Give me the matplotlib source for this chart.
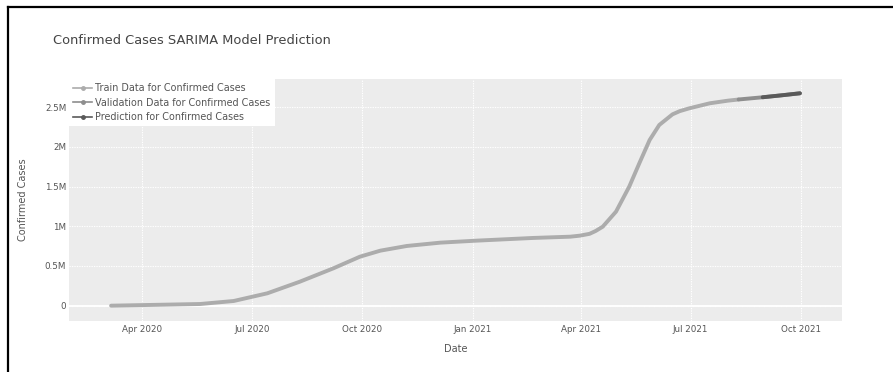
import matplotlib
matplotlib.use("Agg")
import matplotlib.pyplot as plt
from matplotlib.lines import Line2D
import pandas as pd

# Cumulative confirmed cases (millions)
train_dates = ["2020-03-06", "2020-05-19", "2020-06-16", "2020-07-14", "2020-08-10",
               "2020-09-07", "2020-09-29", "2020-10-16", "2020-11-07", "2020-12-05",
               "2021-01-04", "2021-02-20", "2021-03-23", "2021-03-31", "2021-04-08",
               "2021-04-13", "2021-04-19", "2021-04-30", "2021-05-11", "2021-05-20",
               "2021-05-28", "2021-06-05", "2021-06-16", "2021-06-22", "2021-06-30",
               "2021-07-17", "2021-08-01", "2021-08-10"]
train_values = [0.0, 0.021, 0.059, 0.156, 0.302,
                0.471, 0.617, 0.693, 0.752, 0.794,
                0.819, 0.853, 0.869, 0.882, 0.905,
                0.94, 0.995, 1.184, 1.499, 1.814,
                2.087, 2.276, 2.41, 2.45, 2.486,
                2.549, 2.582, 2.597]

valid_dates = ["2021-08-10", "2021-08-30", "2021-09-15", "2021-09-30"]
valid_values = [2.597, 2.625, 2.650, 2.675]

pred_dates = ["2021-08-30", "2021-09-15", "2021-09-30"]
pred_values = [2.625, 2.650, 2.675]

y_ticks = [0, 0.5, 1.0, 1.5, 2.0, 2.5]
y_tick_labels = ["0", "0.5M", "1M", "1.5M", "2M", "2.5M"]
x_ticks = ["2020-04-01", "2020-07-01", "2020-10-01", "2021-01-01",
           "2021-04-01", "2021-07-01", "2021-10-01"]
x_tick_labels = ["Apr 2020", "Jul 2020", "Oct 2020", "Jan 2021",
                 "Apr 2021", "Jul 2021", "Oct 2021"]

TEXT = "#555555"
C_TRAIN = "#acacac"
C_VALID = "#8e8e8e"
C_PRED = "#5a5a5a"

plt.rcParams["font.family"] = ["DejaVu Sans"]

fig = plt.figure(figsize=(8.93, 3.72), dpi=100)
ax = fig.add_axes([69 / 893, 51 / 372, 773 / 893, 242 / 372])
ax.set_facecolor("#ececec")
for s in ax.spines.values():
    s.set_visible(False)

td = pd.to_datetime(train_dates)
vd = pd.to_datetime(valid_dates)
pdt = pd.to_datetime(pred_dates)

lw = 2.8
style = dict(lw=lw, solid_capstyle="round", solid_joinstyle="round")
ax.plot(td, train_values, color=C_TRAIN, zorder=3, **style)
ax.plot(vd, valid_values, color=C_VALID, zorder=4, **style)
ax.plot(pdt, pred_values, color=C_PRED, zorder=5, **style)

ax.set_xlim(pd.Timestamp("2020-01-31"), pd.Timestamp("2021-11-04"))
ax.set_ylim(-0.193, 2.855)

ax.set_yticks(y_ticks)
ax.set_yticklabels(y_tick_labels)
ax.set_xticks(pd.to_datetime(x_ticks))
ax.set_xticklabels(x_tick_labels)
ax.tick_params(axis="both", length=0, labelsize=6.3, colors=TEXT)
ax.tick_params(axis="y", pad=2)
ax.tick_params(axis="x", pad=3)

ax.grid(True, color="white", lw=0.8, linestyle=(0, (1.2, 1.0)), zorder=0)
ax.set_axisbelow(True)
ax.axhline(0, color="white", lw=1.4, zorder=1)

ax.set_xlabel("Date", fontsize=7, color=TEXT, labelpad=7)
ax.set_ylabel("Confirmed Cases", fontsize=7, color=TEXT, labelpad=12)

fig.text(53 / 893, 1 - 41 / 372, "Confirmed Cases SARIMA Model Prediction",
         fontsize=9.4, color="#444444", va="center", ha="left")

handles = [
    Line2D([], [], color=C_TRAIN, lw=1.2, marker="o", markersize=2.5),
    Line2D([], [], color=C_VALID, lw=1.2, marker="o", markersize=2.5),
    Line2D([], [], color=C_PRED, lw=1.2, marker="o", markersize=2.5),
]
labels = ["Train Data for Confirmed Cases",
          "Validation Data for Confirmed Cases",
          "Prediction for Confirmed Cases"]
leg = ax.legend(handles, labels, loc="upper left", bbox_to_anchor=(0, 1.0),
                frameon=True, fontsize=6.9, handlelength=2.0, handletextpad=0.3,
                labelspacing=0.45, borderaxespad=0, borderpad=0.45,
                fancybox=False, framealpha=1.0, labelcolor=TEXT)
leg.get_frame().set_facecolor("white")
leg.get_frame().set_edgecolor("white")
leg.get_frame().set_linewidth(0)
leg.set_zorder(10)

# Frame lines on the left and top edges of the canvas
fig.add_artist(Line2D([8 / 893, 8 / 893], [0, 1 - 7 / 372], color="black", lw=1.6,
                      transform=fig.transFigure))
fig.add_artist(Line2D([8 / 893, 1], [1 - 7 / 372, 1 - 7 / 372], color="black", lw=1.6,
                      transform=fig.transFigure))

fig.savefig("out.png", dpi=100, facecolor="white")
